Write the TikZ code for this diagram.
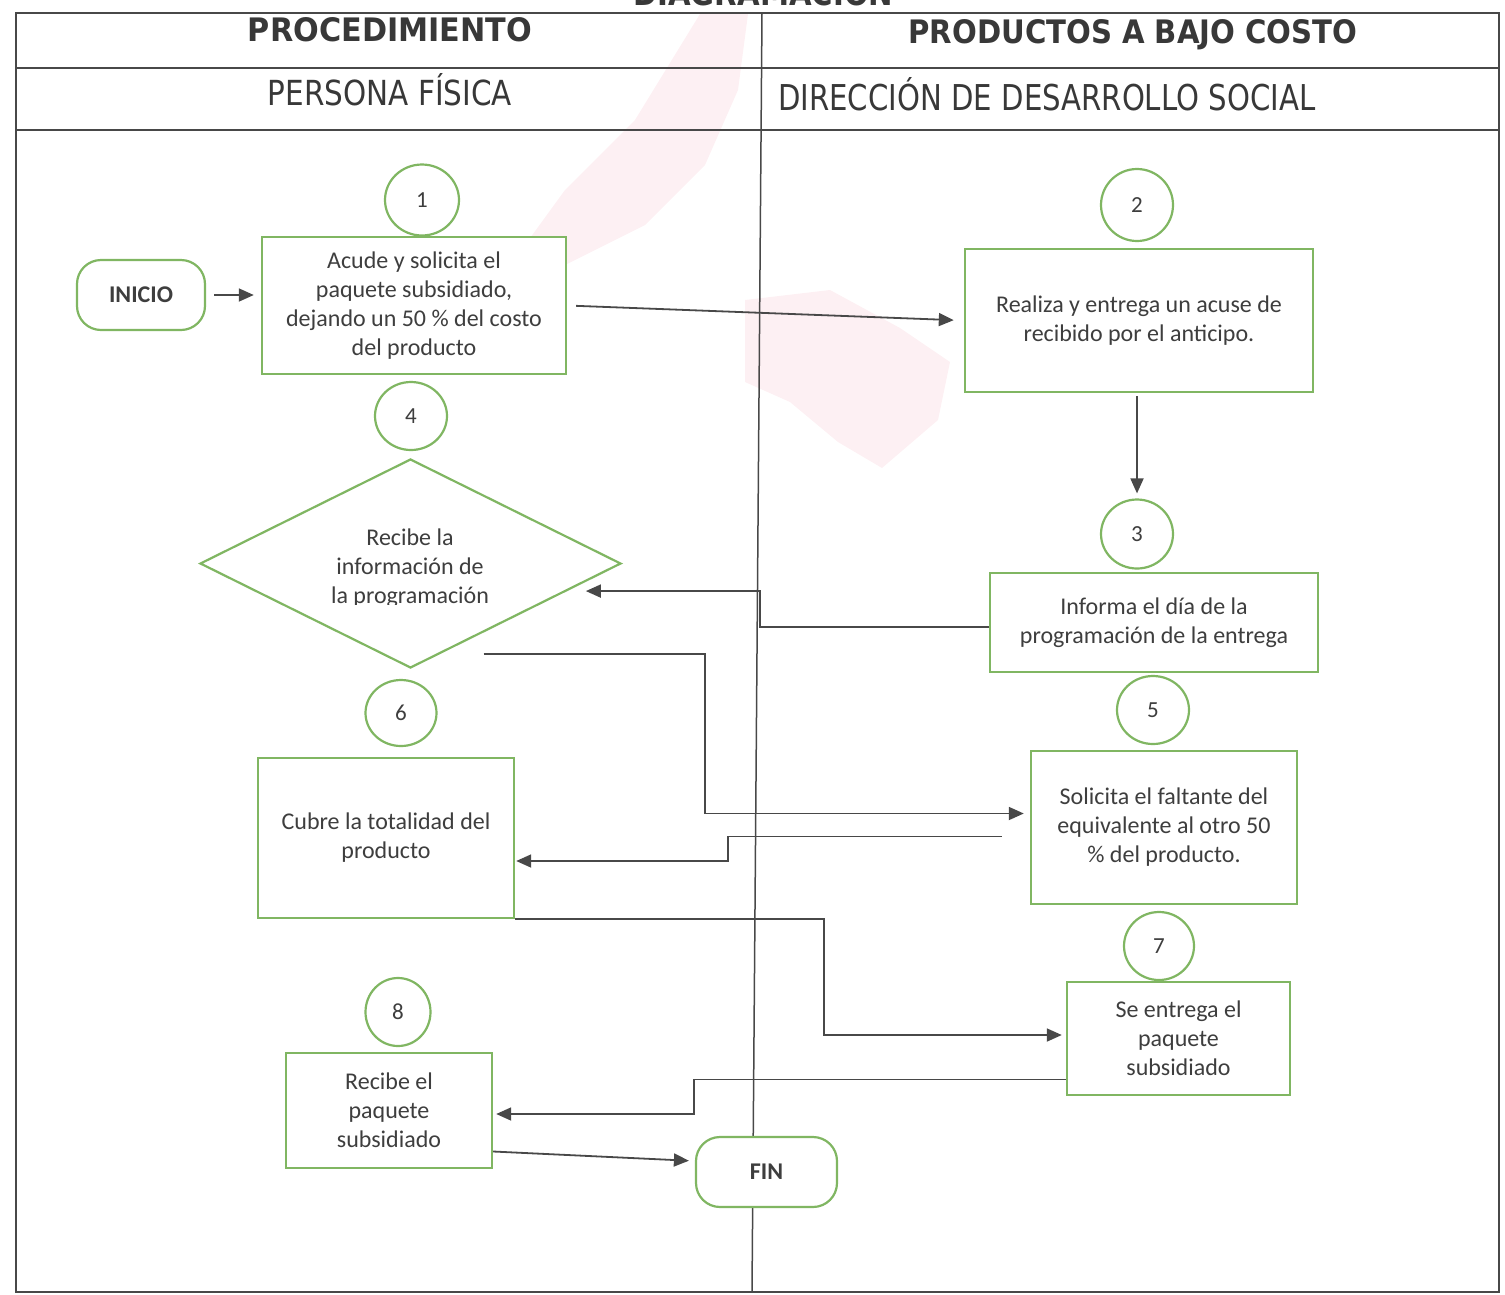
\documentclass[tikz,border=0pt]{standalone}
\usepackage{fontspec}
\usepackage{graphicx}
\setmainfont{Carlito}
\newfontfamily\hdrfont{DejaVu Sans}
\usetikzlibrary{shapes.geometric,arrows.meta}

\definecolor{boxgreen}{RGB}{128,182,98}
\definecolor{ink}{RGB}{62,62,62}
\definecolor{rulegrey}{RGB}{72,72,72}
\definecolor{wmark}{RGB}{253,240,243}

\begin{document}
\begin{tikzpicture}[x=1pt,y=-1pt,
  every node/.style={text=ink},
  stepbox/.style={draw=boxgreen, line width=2.4pt, fill=white, rectangle,
    inner sep=0pt, align=center, font=\fontsize{24}{29}\selectfont},
  num/.style={draw=boxgreen, line width=2.2pt, fill=white, ellipse,
    inner sep=0pt, font=\fontsize{23}{23}\selectfont},
  term/.style={draw=boxgreen, line width=2.2pt, fill=white, rectangle,
    rounded corners=24pt, inner sep=0pt, font=\bfseries\fontsize{24}{24}\selectfont},
  decision/.style={draw=boxgreen, line width=2.2pt, fill=white, diamond,
    inner sep=0pt},
  arr/.style={draw=rulegrey, line width=1.8pt, -{Triangle[length=15pt,width=13pt]}},
  frame/.style={draw=rulegrey, line width=1.5pt},
  hdr/.style={inner sep=0pt, text=ink!90!black}]

\useasboundingbox (0,0) rectangle (1505,1294);
\clip (0,0) rectangle (1505,1294);

% faint logo in the background
\fill[wmark] (700,14) -- (748,14) -- (738,90) -- (705,165) -- (645,225)
  -- (565,265) -- (525,245) -- (565,190) -- (635,120) -- cycle;
\fill[wmark] (745,300) -- (830,290) -- (900,328) -- (950,362) -- (938,420)
  -- (882,468) -- (838,442) -- (790,402) -- (745,382) -- cycle;

% title, cut by the top edge
\node[hdr, anchor=base west] at (633,5)
  {\resizebox{260pt}{32pt}{\hdrfont\bfseries DIAGRAMACIÓN}};

% table frame and lanes
\draw[frame] (16,13) rectangle (1499,1292);
\draw[frame] (16,68) -- (1499,68);
\draw[frame] (16,130) -- (1499,130);
\draw[frame] (762,13) -- (752,1292);

% headers
\node[hdr] at (390,30) {\resizebox{284pt}{24pt}{\hdrfont\bfseries PROCEDIMIENTO}};
\node[hdr] at (1133,35) {\resizebox{449pt}{24pt}{\hdrfont\bfseries PRODUCTOS A BAJO COSTO}};
\node[hdr, anchor=base] at (390,105) {\resizebox{244pt}{32pt}{\hdrfont PERSONA FÍSICA}};
\node[hdr, anchor=base west] at (778,110) {\resizebox{537pt}{33pt}{\hdrfont DIRECCIÓN DE DESARROLLO SOCIAL}};

% step numbers
\node[num, minimum width=74pt, minimum height=71pt] (c1) at (422,200) {1};
\node[num, minimum width=72pt, minimum height=72pt] (c2) at (1137,205) {2};
\node[num, minimum width=72pt, minimum height=69pt] (c3) at (1137,534) {3};
\node[num, minimum width=72pt, minimum height=68pt] (c4) at (411,416) {4};
\node[num, minimum width=72pt, minimum height=68pt] (c5) at (1153,710) {5};
\node[num, minimum width=71pt, minimum height=66pt] (c6) at (401,713) {6};
\node[num, minimum width=70pt, minimum height=68pt] (c7) at (1159,946) {7};
\node[num, minimum width=65pt, minimum height=68pt] (c8) at (398,1012) {8};

% terminals
\node[term, minimum width=128pt, minimum height=70pt] (inicio) at (141,295) {INICIO};
\node[term, minimum width=141pt, minimum height=70pt] (fin) at (766.5,1172) {FIN};

% steps
\node[stepbox, minimum width=304pt, minimum height=137pt] (b1) at (414,305.5)
  {Acude y solicita el\\paquete subsidiado,\\dejando un 50 \% del costo\\del producto};
\node[stepbox, minimum width=348pt, minimum height=143pt] (b2) at (1139,320.5)
  {Realiza y entrega un acuse de\\recibido por el anticipo.};
\node[stepbox, minimum width=328pt, minimum height=99pt] (b3) at (1154,622.5)
  {Informa el día de la\\programación de la entrega};
\node[stepbox, minimum width=266pt, minimum height=153pt] (b5) at (1164,827.5)
  {Solicita el faltante del\\equivalente al otro 50\\\% del producto.};
\node[stepbox, minimum width=256pt, minimum height=160pt] (b6) at (386,838)
  {Cubre la totalidad del\\producto};
\node[stepbox, minimum width=223pt, minimum height=113pt] (b7) at (1178.5,1038.5)
  {Se entrega el\\paquete\\subsidiado};
\node[stepbox, minimum width=206pt, minimum height=115pt] (b8) at (389,1110.5)
  {Recibe el\\paquete\\subsidiado};

% decision
\node[decision, minimum width=421pt, minimum height=209pt] (dia) at (410.5,563.5) {};
\begin{scope}
  \clip (190,440) rectangle (640,604);
  \node[align=center, inner sep=0pt, font=\fontsize{24}{29}\selectfont] (diatext) at (410,568)
    {Recibe la\\información de\\la programación};
\end{scope}

% bend points of the connectors
\coordinate (k1) at (760,627);
\coordinate (k2) at (705,813);
\coordinate (k3) at (728,861);
\coordinate (k4) at (824,1035);
\coordinate (k5) at (694,1114);

% connectors
\draw[arr, shorten <=8pt, shorten >=7pt] (inicio.east) -- (inicio.east -| b1.west);
\draw[arr, shorten <=9pt, shorten >=10pt] (b1.east) -- (b2.west);
\draw[arr, shorten <=3pt, shorten >=5pt] (b2.south -| c3) -- (c3.north);
\draw[arr, shorten >=19pt] (b3.west |- k1) -- (k1) |- (dia.-10);
\draw[arr, shorten >=6pt] ([shift={(73,-15)}]dia.south) -| (k2) |- ([yshift=14pt]b5.west);
\draw[arr, shorten >=1pt] ([shift={(-28,9)}]b5.west) -| (k3) -- (b6.east |- k3);
\draw[arr, shorten >=4pt] (b6.south east) -| (k4) -- (b7.west |- k4);
\draw[arr, shorten >=3pt] ([yshift=-41pt]b7.west) -| (k5) -- (b8.east |- k5);
\draw[arr, shorten >=6pt] ([yshift=-41pt]b8.east) -- ([yshift=11pt]fin.west);

\end{tikzpicture}
\end{document}
